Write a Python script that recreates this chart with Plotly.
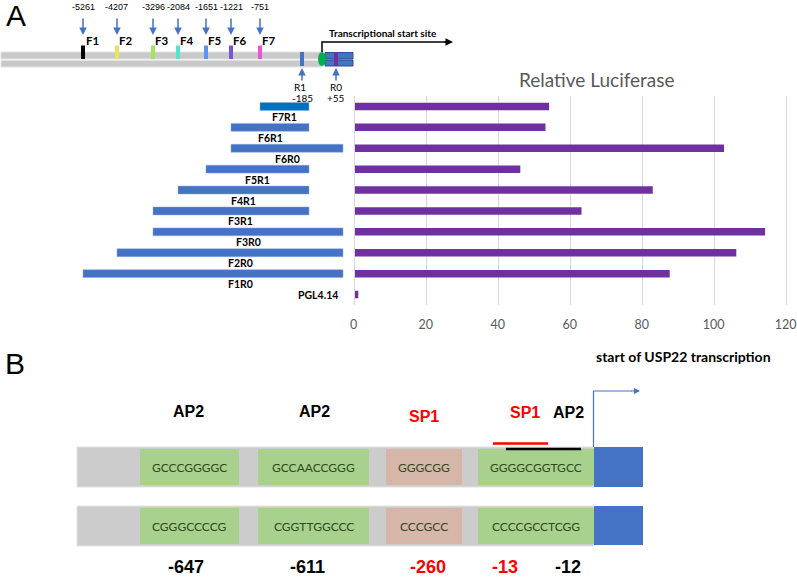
import plotly.graph_objects as go

W, H = 797, 577

# relative luciferase activity, top to bottom
constructs = ["F7R1", "F6R1", "F6R0", "F5R1", "F4R1", "F3R1", "F3R0", "F2R0", "F1R0", "PGL4.14"]
luciferase = [54, 53, 102.6, 46, 82.8, 63, 114, 106, 87.5, 1]

# primers on the promoter map, position relative to the TSS
fwd_names = ["F1", "F2", "F3", "F4", "F5", "F6", "F7"]
fwd_pos = ["-5261", "-4207", "-3296", "-2084", "-1651", "-1221", "-751"]
rev_names = ["R1", "R0"]
rev_pos = ["-185", "+55"]

# panel B: binding sites in the proximal promoter
site_top = ["GCCCGGGGC", "GCCAACCGGG", "GGGCGG", "GGGGCGGTGCC"]
site_bottom = ["CGGGCCCCG", "CGGTTGGCCC", "CCCGCC", "CCCCGCCTCGG"]
site_tf = ["AP2", "AP2", "SP1", "SP1", "AP2"]
site_pos = ["-647", "-611", "-260", "-13", "-12"]

# ---- drawing layout (pixels in the 797x577 page) ----
fwd_x = [83, 117, 153, 178, 206, 231, 260]
fwd_col = ["#000000", "#e6e65a", "#a6e35e", "#52e6c8", "#5b96ee", "#7a52e0", "#ee55d6"]
rev_x = [302, 336]
rev_col = ["#4472C4", "#7030A0"]
rev_overhang = 7

box_x = [(140, 239), (258, 369), (386, 462), (478, 594)]
box_col = ["#a9d18e", "#a9d18e", "#d6b6a9", "#a9d18e"]
tf_x = [188, 314, 424, 525, 568]
tf_y = [411, 411, 416, 412, 412]
tf_col = ["black", "black", "red", "red", "black"]
pos_x = [186, 307, 428, 505, 568]
pos_col = ["black", "black", "red", "red", "black"]

LATO = "Lato, Carlito, sans-serif"
ARIAL = "Liberation Sans, Arial, sans-serif"
NARROW = "Liberation Sans Narrow, Arial Narrow, Liberation Sans, sans-serif"

X0, X120 = 354.7, 786.7  # pixel position of 0 and 120 on the luciferase axis
XMAX = 120.5


def px(x):
    return x / W


def py(y):
    return 1 - y / H


def rect(x0, y0, x1, y1, fill, line=None, lw=0):
    return dict(type="rect", xref="paper", yref="paper",
                x0=px(x0), x1=px(x1), y0=py(y0), y1=py(y1),
                fillcolor=fill, line=dict(color=line or fill, width=lw), layer="above")


def text(x, y, s, size, color="black", bold=False, family=LATO, xanchor="center"):
    return dict(x=px(x), y=py(y), xref="paper", yref="paper",
                text=f"<b>{s}</b>" if bold else s, showarrow=False,
                xanchor=xanchor, yanchor="middle",
                font=dict(size=size, color=color, family=family))


def arrow(x, y, ax, ay, color, width=1.5, head=2):
    return dict(x=px(x), y=py(y), xref="paper", yref="paper", text="",
                showarrow=True, ax=ax, ay=ay, arrowhead=head, arrowsize=1,
                arrowwidth=width, arrowcolor=color)


fig = go.Figure()

# luciferase bars
idx = list(range(len(constructs)))
fig.add_trace(go.Bar(y=idx, x=luciferase, orientation="h", width=0.36,
                     marker=dict(color="#7030A0", line=dict(width=0)),
                     xaxis="x", yaxis="y"))

# construct bars, drawn on the map's pixel scale
starts, lengths, cols, lab_x = [], [], [], []
for name in constructs[:-1]:
    s = fwd_x[fwd_names.index(name[:2])]
    e = rev_x[rev_names.index(name[2:])] + rev_overhang
    starts.append(s)
    lengths.append(e - s)
    cols.append("#0070C0" if name == "F7R1" else "#4472C4")
    lab_x.append(max((s + e) / 2, 240))
fig.add_trace(go.Bar(y=idx[:-1], x=lengths, base=starts, orientation="h", width=0.38,
                     marker=dict(color=cols, line=dict(color="#8fabdc", width=0.5)),
                     xaxis="x2", yaxis="y"))

shapes = []
ann = []

# ---- panel A: promoter map ----
shapes.append(rect(1, 52, 322, 59, "#c9c9c9", "#e2e2e2", 1))
shapes.append(rect(1, 60.5, 322, 67, "#c9c9c9", "#e2e2e2", 1))
shapes.append(rect(325, 52.5, 353, 59, "#4472C4", "#2f528f", 1))
shapes.append(rect(325, 60, 353, 66, "#4472C4", "#2f528f", 1))
for i, x in enumerate(fwd_x):
    shapes.append(rect(x - 2, 45.5, x + 2, 59, fwd_col[i]))
    ann.append(arrow(x, 35, 0, -18, "#4472C4"))
    ann.append(text(x, 7, fwd_pos[i], 9, family=ARIAL))
    ann.append(text(x + 9, 41, fwd_names[i], 11.5, bold=True))
for i, x in enumerate(rev_x):
    shapes.append(rect(x - 2, 52, x + 2, 66, rev_col[i]))
    ann.append(arrow(x, 68, 0, 14, "#4472C4"))
    ann.append(text(x - 2 if i == 0 else x, 87, rev_names[i], 10))
    ann.append(text(x, 97.5, rev_pos[i], 10))
shapes.append(dict(type="circle", xref="paper", yref="paper",
                   x0=px(318), x1=px(326), y0=py(52), y1=py(66),
                   fillcolor="#00b050", line=dict(color="#00b050", width=0), layer="above"))
shapes.append(dict(type="path", xref="paper", yref="paper",
                   path=f"M {px(322)} {py(52)} L {px(322)} {py(42)} L {px(446)} {py(42)}",
                   line=dict(color="black", width=1.5), layer="above"))
ann.append(arrow(453, 42, -10, 0, "black", 1.5))
ann.append(text(327, 33, "Transcriptional start site", 10, bold=True, xanchor="left"))

# construct labels
for i, name in enumerate(constructs[:-1]):
    ann.append(dict(x=lab_x[i], y=i + 0.5, xref="x2", yref="y", text=f"<b>{name}</b>",
                    showarrow=False, font=dict(size=10.5, color="black", family=LATO)))
ann.append(dict(x=339.5, y=idx[-1], xref="x2", yref="y", text=f"<b>{constructs[-1]}</b>",
                showarrow=False, xanchor="right", font=dict(size=10.5, color="black", family=LATO)))

ann.append(text(597, 80, "Relative Luciferase", 19, color="#595959"))
ann.append(text(16, 15, "A", 30, family=ARIAL))
ann.append(text(15, 363, "B", 30, family=ARIAL))

# ---- panel B: proximal promoter ----
shapes.append(rect(77, 447, 594, 487, "#cccccc", "#e4e4e4", 1))
shapes.append(rect(77, 506, 594, 546, "#cccccc", "#e4e4e4", 1))
shapes.append(rect(594, 447, 643, 487, "#4472C4"))
shapes.append(rect(594, 506, 643, 545, "#4472C4"))
for i, (x0, x1) in enumerate(box_x):
    shapes.append(rect(x0, 449, x1, 485, box_col[i]))
    shapes.append(rect(x0, 508, x1, 544, box_col[i]))
    ann.append(text((x0 + x1) / 2, 467, site_top[i], 12, color="#2e4a1c"))
    ann.append(text((x0 + x1) / 2, 526, site_bottom[i], 12, color="#2e4a1c"))
for i, tf in enumerate(site_tf):
    ann.append(text(tf_x[i], tf_y[i], tf, 16, color=tf_col[i], bold=True, family=ARIAL))
    ann.append(text(pos_x[i], 567, site_pos[i], 18, color=pos_col[i], bold=True, family=NARROW))
shapes.append(dict(type="line", xref="paper", yref="paper", x0=px(493), x1=px(548),
                   y0=py(443.5), y1=py(443.5), line=dict(color="red", width=2.5), layer="above"))
shapes.append(dict(type="line", xref="paper", yref="paper", x0=px(506), x1=px(581),
                   y0=py(449), y1=py(449), line=dict(color="black", width=2.5), layer="above"))
shapes.append(dict(type="path", xref="paper", yref="paper",
                   path=f"M {px(593.5)} {py(447)} L {px(593.5)} {py(391)} L {px(632)} {py(391)}",
                   line=dict(color="#4472C4", width=1.2), layer="above"))
ann.append(arrow(640, 391, -10, 0, "#4472C4", 1.2))
ann.append(text(594, 356, "start of USP22 transcription", 14, bold=True, xanchor="left"))

x_right = X0 + (X120 - X0) * XMAX / 120
fig.update_layout(
    width=W, height=H,
    margin=dict(l=0, r=0, t=0, b=0, autoexpand=False),
    paper_bgcolor="white", plot_bgcolor="rgba(0,0,0,0)",
    showlegend=False,
    shapes=shapes, annotations=ann,
    xaxis=dict(domain=[px(X0), px(x_right)], range=[0, XMAX], dtick=20, anchor="y",
               showgrid=True, gridcolor="#d9d9d9", gridwidth=1, zeroline=False,
               showline=False, ticks="", ticklabelstandoff=10, ticklabeloverflow="allow",
               ticklabelshift=-1,
               tickfont=dict(size=12.5, color="#595959", family=LATO), fixedrange=True),
    yaxis=dict(domain=[py(305), py(96)], range=[9.5, -0.5], anchor="x",
               showticklabels=False, showgrid=False, zeroline=False,
               showline=True, linecolor="#d9d9d9", linewidth=1, fixedrange=True),
    xaxis2=dict(domain=[0, 1], range=[0, W], anchor="y", visible=False, fixedrange=True),
)

# drop the page's default 8px margin and any scrolling, so the figure fills the window
page_fix = ("document.body.style.margin='0';"
            "document.body.style.overflow='hidden';"
            "document.documentElement.style.overflow='hidden';")
fig.write_html("out.html", config={"displayModeBar": False}, post_script=page_fix)
